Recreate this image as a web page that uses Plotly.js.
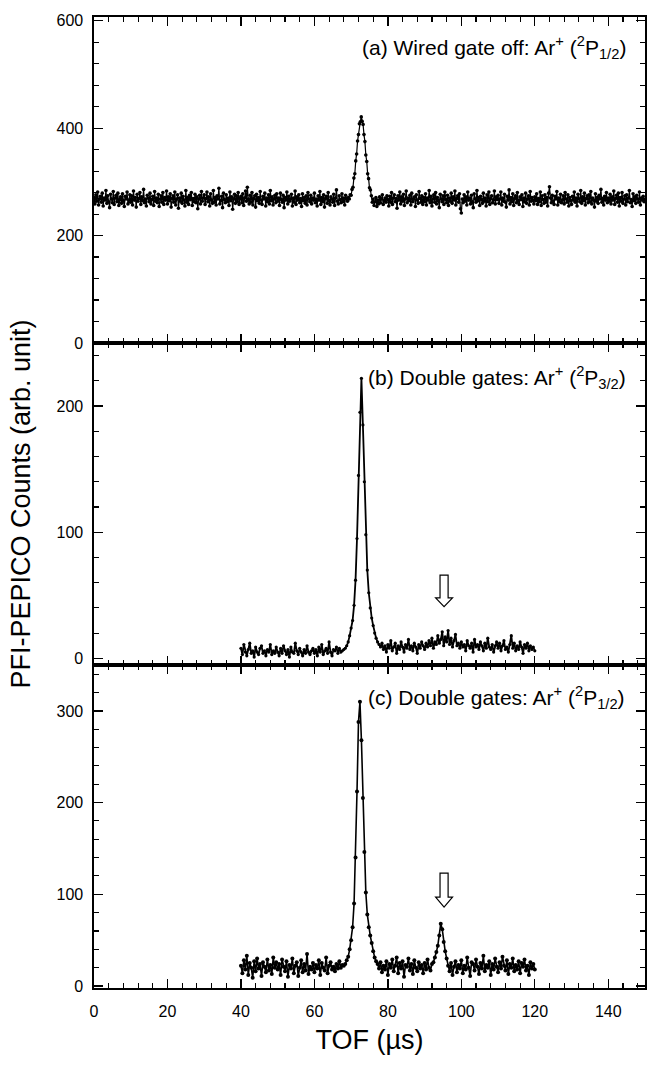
<!DOCTYPE html>
<html>
<head>
<meta charset="utf-8">
<script src="https://cdn.plot.ly/plotly-3.0.1.min.js"></script>
<style>html,body{margin:0;padding:0;background:#fff;}</style>
</head>
<body>
<div id="chart" style="width:648px;height:1069px;"></div>
<script>
// ---- Data ----
// TOF grid of each spectrum (µs): start and bin width
const tofStartA = 0,  tofStepA = 0.25;  // panel (a): 0 ... 150 µs
const tofStartB = 40, tofStepB = 0.4;   // panel (b): 40 ... 120 µs
const tofStartC = 40, tofStepC = 0.4;   // panel (c): 40 ... 120 µs

// (a) Wired gate off: Ar+ (2P1/2)   (one row = 10 µs)
const countsA = [
  271,259,276,264,281,257,268,273,262,279,255,270,266,284,260,274,263,252,277,268,261,282,258,270,275,263,279,256,267,272,260,278,265,254,273,268,281,259,266,276,
  262,274,257,283,266,271,253,277,264,269,280,258,272,265,286,261,268,255,275,270,263,279,259,267,273,256,282,264,270,261,277,254,268,274,262,280,258,271,266,283,
  259,272,265,278,253,269,274,262,281,257,268,276,251,270,264,279,260,273,266,255,284,262,271,258,275,267,280,256,269,263,277,261,272,250,268,275,259,282,264,270,
  276,258,269,281,263,272,255,278,266,260,284,262,271,257,274,268,288,259,265,273,252,279,267,261,276,263,270,256,281,265,272,249,268,277,260,274,263,280,258,269,
  273,261,278,256,270,283,264,290,268,259,275,262,280,257,269,274,253,277,265,271,260,282,266,258,273,268,279,255,270,263,276,259,284,265,272,257,268,275,261,278,
  264,270,256,279,267,262,275,252,271,266,281,259,273,264,268,277,255,270,262,283,258,272,266,276,261,269,254,278,265,271,260,274,257,280,268,263,275,259,270,266,
  279,261,268,255,274,266,282,258,271,263,276,253,269,273,260,280,265,257,272,268,262,277,256,270,285,264,259,274,267,261,278,263,270,257,275,268,264,271,268,276,
  275,286,290,307,315,339,352,376,388,408,412,421,413,407,388,375,350,338,315,306,289,285,274,262,268,256,263,271,254,266,259,272,261,268,276,258,265,270,262,274,
  267,255,273,262,280,258,270,276,263,269,251,274,266,281,259,272,264,277,256,268,283,261,270,265,275,257,279,263,268,272,254,276,266,260,282,269,262,274,258,271,
  263,278,257,270,266,284,261,273,255,268,276,262,280,259,271,265,252,277,268,263,274,258,281,267,261,275,256,270,264,279,260,272,266,283,257,269,274,262,278,250,
  242,268,261,276,264,272,257,281,266,270,259,275,263,252,278,268,262,284,265,271,256,273,267,260,279,264,270,255,276,263,281,258,269,274,261,266,283,259,272,267,
  275,260,268,281,257,270,264,277,262,253,273,266,285,259,271,263,278,256,269,274,261,280,265,258,272,267,276,254,270,263,279,260,268,274,257,282,264,271,266,259,
  272,265,278,258,269,263,281,256,274,267,260,276,262,271,255,279,291,270,261,275,264,258,273,268,282,257,270,263,277,261,266,274,259,280,268,262,276,255,271,265,
  258,273,266,281,262,270,255,277,268,263,284,260,272,265,279,257,269,274,261,276,263,282,259,270,266,253,278,264,271,260,275,268,286,262,269,257,273,266,280,261,
  270,264,277,259,272,266,283,258,269,275,262,279,255,271,264,280,260,268,274,257,276,263,270,284,261,267,254,278,265,272,260,275,268,262,281,257,270,266,273,263,
  268
];

// (b) Double gates: Ar+ (2P3/2)   (one row = 10 µs)
const countsB = [
  8,3,11,5,2,7,12,4,6,1,9,5,3,8,10,4,6,2,7,5,11,3,6,4,9,
  5,2,8,4,10,6,3,7,1,9,5,4,12,6,3,8,5,2,7,4,10,5,3,6,8,
  4,7,2,9,5,11,3,6,8,4,13,5,2,7,6,9,4,8,5,6,7,8,10,13,18,
  24,30,42,62,95,145,195,222,185,140,98,70,52,40,32,26,20,16,13,11,9,12,7,10,5,
  11,8,14,6,9,12,4,10,7,13,9,5,11,8,15,7,10,6,12,9,4,11,8,13,10,
  7,12,9,14,10,16,8,13,11,18,12,15,21,10,17,13,22,11,16,9,14,19,10,12,8,
  13,9,11,6,14,10,8,12,5,15,9,11,7,13,10,6,12,8,16,9,7,11,5,10,13,
  8,12,6,10,14,7,9,5,11,18,8,12,6,10,7,13,9,4,11,8,12,6,10,7,9,
  6
];

// (c) Double gates: Ar+ (2P1/2)   (one row = 10 µs)
const countsC = [
  22,14,28,18,33,12,25,20,9,27,16,30,19,24,11,26,21,15,29,17,23,13,31,20,26,
  18,24,12,29,21,16,27,10,23,19,30,14,22,26,11,20,28,15,24,17,35,13,21,18,25,
  15,23,19,28,12,25,20,17,31,14,22,26,18,21,16,24,19,27,20,23,22,24,28,32,40,
  50,64,90,140,212,288,310,268,205,146,102,78,64,55,47,38,31,27,24,19,26,15,22,18,27,
  12,24,20,29,16,22,31,14,25,19,27,10,23,21,30,17,24,13,28,20,16,26,19,23,14,
  25,18,29,20,17,24,26,31,37,44,55,68,62,48,38,30,22,16,25,12,21,27,15,23,19,
  28,14,22,18,31,20,11,26,24,17,29,21,13,25,19,33,16,23,20,27,12,24,18,30,21,
  15,26,19,32,22,17,28,13,24,20,30,16,23,18,27,14,25,21,29,17,22,12,26,19,24,
  18
];

const panelLabels = [
  '(a) Wired gate off: Ar<sup>+</sup> (<sup>2</sup>P<sub>1/2</sub>)',
  '(b) Double gates: Ar<sup>+</sup> (<sup>2</sup>P<sub>3/2</sub>)',
  '(c) Double gates: Ar<sup>+</sup> (<sup>2</sup>P<sub>1/2</sub>)'
];
const xTitle = 'TOF (µs)';
const yTitle = 'PFI-PEPICO Counts (arb. unit)';

// ---- Styling ----
const FONT = 'Liberation Sans, Arial, Helvetica, sans-serif';
const ink = '#000';

function trace(y, x0, dx, xa, ya, msize, lw) {
  return {
    type: 'scatter', mode: 'lines+markers',
    y: y, x0: x0, dx: dx, xaxis: xa, yaxis: ya,
    line: {color: ink, width: lw},
    marker: {color: ink, size: msize},
    hoverinfo: 'skip', showlegend: false
  };
}

const data = [
  trace(countsA, tofStartA, tofStepA, 'x',  'y',  3.6, 1.2),
  trace(countsB, tofStartB, tofStepB, 'x2', 'y2', 3.2, 1.8),
  trace(countsC, tofStartC, tofStepC, 'x3', 'y3', 4.0, 1.6)
];

function xAxis(anchor, showLabels) {
  return {
    anchor: anchor, range: [0, 150], dtick: 20, tick0: 0,
    ticks: 'inside', ticklen: 9, tickwidth: 1.3, tickcolor: ink,
    minor: {dtick: 4, ticks: 'inside', ticklen: 5, tickwidth: 1.1, tickcolor: ink},
    showline: true, linecolor: ink, linewidth: 1.6, mirror: 'allticks',
    showgrid: false, zeroline: false, showticklabels: showLabels,
    tickfont: {family: FONT, size: 16, color: ink}, ticklabelstandoff: 8
  };
}
function yAxis(anchor, domain, range, dtick, minorDtick) {
  return {
    anchor: anchor, domain: domain, range: range, dtick: dtick, tick0: 0,
    ticks: 'inside', ticklen: 9, tickwidth: 1.3, tickcolor: ink,
    minor: {dtick: minorDtick, ticks: 'inside', ticklen: 5, tickwidth: 1.1, tickcolor: ink},
    showline: true, linecolor: ink, linewidth: 1.6, mirror: 'allticks',
    showgrid: false, zeroline: false,
    tickfont: {family: FONT, size: 16, color: ink}, ticklabelstandoff: 6
  };
}

const xa1 = xAxis('y', false), xa2 = xAxis('y2', false), xa3 = xAxis('y3', true);
xa3.title = {text: xTitle, font: {family: FONT, size: 27, color: ink}, standoff: 11};
const ya1 = yAxis('x',  [0.6643, 1],      [0, 607],     200, 40);
const ya2 = yAxis('x2', [0.3326, 0.6643], [-5.3, 250],  100, 20);
const ya3 = yAxis('x3', [0, 0.3326],      [-2.2, 350],  100, 20);
ya2.title = {text: yTitle, font: {family: FONT, size: 27, color: ink}, standoff: 18};

const annFont = {family: FONT, size: 21, color: ink};
const annotations = [
  {xref: 'x',  yref: 'y',  x: 145.3, y: 551, xanchor: 'right', yanchor: 'middle', text: panelLabels[0], showarrow: false, font: annFont},
  {xref: 'x2', yref: 'y2', x: 74.0,  y: 223, xanchor: 'left',  yanchor: 'middle', text: panelLabels[1], showarrow: false, font: annFont},
  {xref: 'x3', yref: 'y3', x: 74.0,  y: 315, xanchor: 'left',  yanchor: 'middle', text: panelLabels[2], showarrow: false, font: annFont}
];

// hollow downward arrows marking the weak feature near 95 µs
const shapes = [
  {type: 'path', xref: 'x2', yref: 'y2',
   path: 'M 94.2 66 L 96.4 66 L 96.4 48 L 97.6 48 L 95.3 41 L 93.0 48 L 94.2 48 Z',
   fillcolor: '#fff', line: {color: ink, width: 1.2}},
  {type: 'path', xref: 'x3', yref: 'y3',
   path: 'M 94.2 123 L 96.4 123 L 96.4 97 L 97.6 97 L 95.3 86 L 93.0 97 L 94.2 97 Z',
   fillcolor: '#fff', line: {color: ink, width: 1.2}}
];

const layout = {
  width: 648, height: 1069,
  margin: {l: 94, r: 3, t: 17, b: 81, pad: 0},
  paper_bgcolor: '#fff', plot_bgcolor: '#fff',
  font: {family: FONT, color: ink},
  xaxis: xa1, yaxis: ya1,
  xaxis2: xa2, yaxis2: ya2,
  xaxis3: xa3, yaxis3: ya3,
  annotations: annotations, shapes: shapes,
  showlegend: false
};

Plotly.newPlot('chart', data, layout, {staticPlot: true, displayModeBar: false});
</script>
</body>
</html>
